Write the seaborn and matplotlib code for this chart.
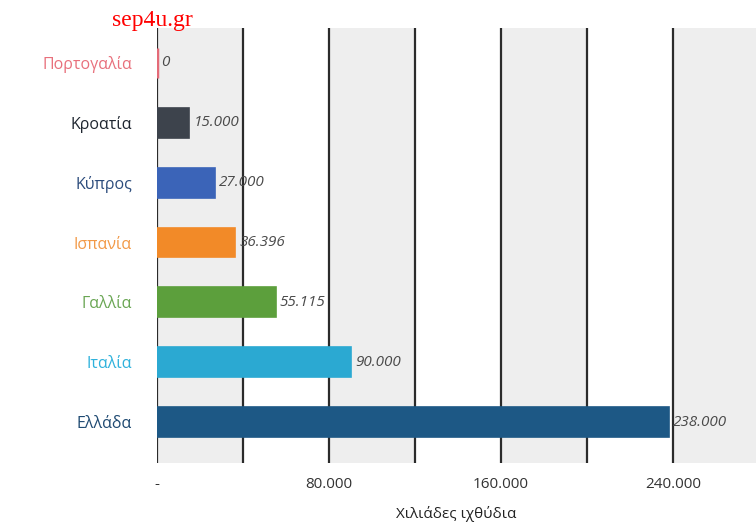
import matplotlib

matplotlib.use("Agg")
import matplotlib.pyplot as plt
import pandas as pd
import seaborn as sns

# Data
COUNTRIES = ["Πορτογαλία", "Κροατία", "Κύπρος", "Ισπανία", "Γαλλία", "Ιταλία", "Ελλάδα"]
VALUES = [0, 15000, 27000, 36396, 55115, 90000, 238000]
VALUE_LABELS = ["0", "15.000", "27.000", "36.396", "55.115", "90.000", "238.000"]
BAR_COLORS = ["#e46b78", "#3d434c", "#3b64b8", "#f28a28", "#5c9f3c", "#2ba9d2", "#1d5885"]
LABEL_COLORS = ["#e8707c", "#1f2630", "#2c4c7c", "#f29a48", "#6aa654", "#2fb2dc", "#1f4a72"]
X_TICKS = [0, 40000, 80000, 120000, 160000, 200000, 240000]
X_TICK_LABELS = ["-", "", "80.000", "", "160.000", "", "240.000"]
X_LABEL = "Χιλιάδες ιχθύδια"

df = pd.DataFrame({"country": COUNTRIES, "value": VALUES})

sns.set_theme(style="white")
plt.rcParams["font.family"] = ["Open Sans", "DejaVu Sans"]

fig = plt.figure(figsize=(7.56, 5.29), dpi=100)
ax = fig.add_axes([0.2077, 0.1248, 0.7923, 0.8222])
ax.set_facecolor("white")

sns.barplot(
    data=df, x="value", y="country", hue="country", palette=BAR_COLORS,
    orient="h", width=0.5, legend=False, ax=ax, zorder=3, saturation=1,
)
for patch, c in zip(ax.patches, BAR_COLORS):
    patch.set_edgecolor(c)
    patch.set_linewidth(1.2)
# the zero bar shows as a thin red sliver in the reference
ax.patches[0].set_linewidth(2.5)

# alternating background bands between grid lines
xmax = 278500
edges = X_TICKS + [xmax]
for i in range(len(edges) - 1):
    if i % 2 == 0:
        ax.axvspan(edges[i], edges[i + 1], facecolor="#eeeeee", edgecolor="none", zorder=0)

for x in X_TICKS:
    ax.axvline(x, color="#2b2b2b", lw=1.6, zorder=2)

for i, (v, lab) in enumerate(zip(VALUES, VALUE_LABELS)):
    ax.text(v + 2000, i, lab, va="center", ha="left", fontsize=11,
            style="italic", color="#4a4a4a", zorder=4)

ax.set_xlim(0, xmax)
ax.set_ylim(len(COUNTRIES) - 1 + 0.68, -0.58)
ax.set_xticks(X_TICKS)
ax.set_xticklabels(X_TICK_LABELS, fontsize=11, color="#333333")
ax.tick_params(axis="x", length=0, pad=10)
ax.tick_params(axis="y", length=0, pad=18)
for tl, c in zip(ax.get_yticklabels(), LABEL_COLORS):
    tl.set_color(c)
    tl.set_fontsize(11.5)
ax.set_ylabel("")
ax.set_xlabel(X_LABEL, fontsize=11, color="#222222", labelpad=10)
for s in ax.spines.values():
    s.set_visible(False)

fig.text(0.148, 0.962, "sep4u.gr", color="#ff0000", fontsize=17,
         family="Liberation Serif", ha="left", va="center")

fig.savefig("out.png", dpi=100)
